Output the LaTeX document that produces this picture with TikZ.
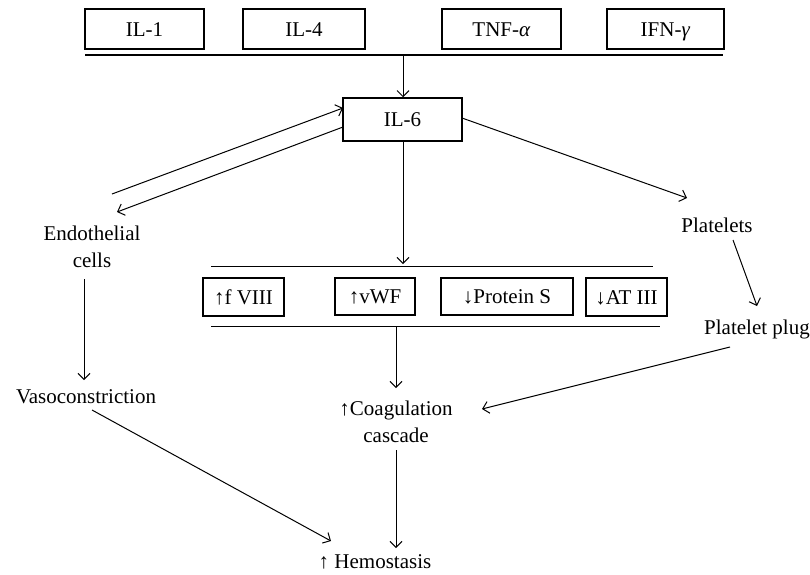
\documentclass[tikz,border=0pt]{standalone}
\usepackage{fontspec}
\setmainfont{Liberation Serif}
\usetikzlibrary{arrows.meta}
\begin{document}
\begin{tikzpicture}[x=1pt,y=-1pt,
  font=\fontsize{21}{27}\selectfont,
  box/.style={draw,line width=1.5pt,inner sep=0pt,minimum height=40pt,text height=18pt,text depth=4pt,anchor=center},
  lbl/.style={inner sep=0pt,align=center},
  conn/.style={line width=1pt},
  arr/.style={line width=1pt,-{Straight Barb[length=6pt,width=12pt,line width=1pt]}},
  bar/.style={line width=1.4pt}]
\useasboundingbox (0,0) rectangle (810,574);
% top cytokines
\node[box,minimum width=119pt] (il1) at (144.5,29) {IL-1};
\node[box,minimum width=122pt] (il4) at (304,29) {IL-4};
\node[box,minimum width=119pt] (tnf) at (501.5,29) {TNF-\textit{α}};
\node[box,minimum width=117pt] (ifn) at (665.5,29) {IFN-\textit{γ}};
\coordinate (topL) at (85,55);
\coordinate (topR) at (723,55);
\coordinate (topM) at (403,55);
\draw[bar] (topL) -- (topR);
% IL-6
\node[box,minimum width=119pt,minimum height=43pt] (il6) at (402.5,119.5) {IL-6};
\draw[arr] (topM) -- (il6.north -| topM);
% side nodes
\node[lbl] (endo) at (92,247) {Endothelial\\cells};
\node[lbl] (vaso) at (86,397) {Vasoconstriction};
\node[lbl] (plat) at (717,225) {Platelets};
\node[lbl] (plug) at (757,329) {Platelet plug};
\node[lbl] (coag) at (396,422) {↑Coagulation\\cascade};
\node[lbl] (hemo) at (375,562) {↑ Hemostasis};
% middle row
\coordinate (mtL) at (211,266);
\coordinate (mtR) at (653,266);
\coordinate (mbL) at (211,326);
\coordinate (mbR) at (660,326);
\draw[conn] (mtL) -- (mtR);
\draw[conn] (mbL) -- (mbR);
\node[box,minimum width=81pt,minimum height=38pt] (f8) at (243.5,297) {↑f VIII};
\node[box,minimum width=80pt,minimum height=37pt] (vwf) at (375,296.5) {↑vWF};
\node[box,minimum width=132pt,minimum height=37pt] (ps) at (507,296.5) {↓Protein S};
\node[box,minimum width=81pt,minimum height=38pt] (at3) at (626.5,297) {↓AT III};
% connector end points
\coordinate (e1) at (112,194);
\coordinate (e2) at (117,212);
\coordinate (il6in) at (343,108);
\coordinate (il6out) at (343,127);
\coordinate (il6r) at (462,118);
\coordinate (platIn) at (687,198);
\coordinate (platOut) at (733,240);
\coordinate (plugIn) at (757,306);
\coordinate (plugOut) at (730,347);
\coordinate (coagR) at (482,409);
\coordinate (endoOut) at (84,279);
\coordinate (vasoIn) at (84,380);
\coordinate (vasoOut) at (92,410);
\coordinate (hemoL) at (331,541);
\coordinate (il6down) at (403,264);
\coordinate (mbM) at (396,326);
\coordinate (coagIn) at (396,388);
\coordinate (coagOut) at (396,450);
\coordinate (hemoIn) at (396,548);
% connectors
\draw[arr] (e1) -- (il6in);
\draw[arr] (il6out) -- (e2);
\draw[arr] (il6r) -- (platIn);
\draw[arr] (platOut) -- (plugIn);
\draw[arr] (plugOut) -- (coagR);
\draw[arr] (endoOut) -- (vasoIn);
\draw[arr] (vasoOut) -- (hemoL);
\draw[arr] (il6.south -| il6down) -- (il6down);
\draw[arr] (mbM) -- (coagIn);
\draw[arr] (coagOut) -- (hemoIn);
\end{tikzpicture}
\end{document}
